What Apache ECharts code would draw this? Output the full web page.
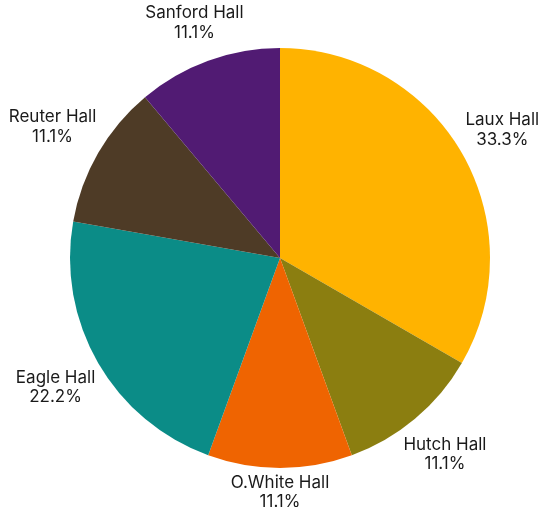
<!DOCTYPE html>
<html>
<head>
<meta charset="utf-8">
<script src="https://cdn.jsdelivr.net/npm/echarts@6/dist/echarts.min.js"></script>
<style>
  html, body { margin: 0; padding: 0; background: #fff; }
  #chart { width: 539px; height: 510px; }
</style>
</head>
<body>
<div id="chart"></div>
<script>
// Residence halls and their counts
const halls = ['Laux Hall', 'Hutch Hall', 'O.White Hall', 'Eagle Hall', 'Reuter Hall', 'Sanford Hall'];
const counts = [3, 1, 1, 2, 1, 1];
const hallColors = ['#FFB300', '#8B7E10', '#EF6401', '#0B8C87', '#4E3B26', '#511B73'];

const chart = echarts.init(document.getElementById('chart'), null, { renderer: 'canvas' });

// Place each label just outside its slice, centred on the slice's mid-angle,
// pushed out far enough that the text box clears the rim.
function placeLabel(params) {
  const data = chart.getModel().getSeriesByIndex(0).getData();
  const lay = data.getItemLayout(params.dataIndex);
  if (!lay) return {};
  const mid = (lay.startAngle + lay.endAngle) / 2;
  const ux = Math.cos(mid), uy = Math.sin(mid);
  const w = params.labelRect.width / 2, h = params.labelRect.height / 2;
  const d = lay.r + 5 + w * Math.abs(ux) + h * Math.abs(uy);
  return {
    x: lay.cx + ux * d,
    y: lay.cy + uy * d,
    align: 'center',
    verticalAlign: 'middle'
  };
}

chart.setOption({
  animation: false,
  series: [{
    type: 'pie',
    center: [280, 258],
    radius: [0, 210],
    startAngle: 90,
    clockwise: true,
    data: halls.map((name, i) => ({ name, value: counts[i], itemStyle: { color: hallColors[i] } })),
    itemStyle: { borderWidth: 0 },
    label: {
      show: true,
      position: 'outside',
      alignTo: 'none',
      overflow: 'none',
      formatter: p => p.name + '\n' + p.percent.toFixed(1) + '%',
      color: '#1a1a1a',
      fontFamily: 'Inter',
      fontSize: 17,
      lineHeight: 19.5,
      align: 'center'
    },
    labelLine: { show: false },
    labelLayout: placeLabel,
    emphasis: { disabled: true }
  }]
});
</script>
</body>
</html>
